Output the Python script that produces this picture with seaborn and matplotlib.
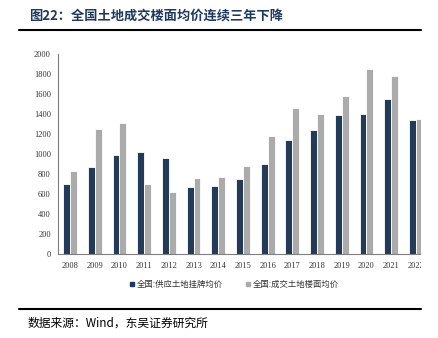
import matplotlib
matplotlib.use("Agg")
import matplotlib.pyplot as plt
import seaborn as sns
import pandas as pd
from matplotlib.lines import Line2D
from matplotlib.patches import Rectangle

years = ["2008", "2009", "2010", "2011", "2012", "2013", "2014", "2015",
         "2016", "2017", "2018", "2019", "2020", "2021", "2022"]
supply_price = [697, 873, 987, 1017, 957, 670, 683, 750, 903, 1140, 1237, 1387, 1400, 1547, 1340]
deal_price = [827, 1250, 1310, 697, 623, 757, 770, 877, 1180, 1463, 1397, 1583, 1850, 1777, 1350]
series_names = ["全国:供应土地挂牌均价", "全国:成交土地楼面均价"]
yticks = [0, 200, 400, 600, 800, 1000, 1200, 1400, 1600, 1800, 2000]

df = pd.DataFrame({
    "year": years * 2,
    "value": supply_price + deal_price,
    "series": [series_names[0]] * len(years) + [series_names[1]] * len(years),
})

sns.set_style("white")
plt.rcParams["font.family"] = ["Noto Sans CJK SC", "DejaVu Sans"]

navy = "#1b3a60"
gray = "#ababab"

fig = plt.figure(figsize=(4.39, 3.38), dpi=100)
ax = fig.add_axes([0.1315, 0.2485, 0.959 - 0.1315, 0.840 - 0.2485])

sns.barplot(data=df, x="year", y="value", hue="series", palette=[navy, gray],
            width=0.56, edgecolor="white", linewidth=0.6, ax=ax, legend=False)

ax.set_yticks(yticks)
ax.set_xticks([i + 0.5 for i in range(len(years) - 1)], minor=True)
ax.set_xlim(-0.5, 14.21)
ax.set_ylim(0, 2000)
ax.set_xlabel("")
ax.set_ylabel("")
for s in ["top", "right"]:
    ax.spines[s].set_visible(False)
for s in ["left", "bottom"]:
    ax.spines[s].set_color("#7f7f7f")
    ax.spines[s].set_linewidth(0.8)

ax.tick_params(axis="x", which="major", length=0, pad=6, labelsize=6,
               labelcolor="#333333")
ax.tick_params(axis="x", which="minor", length=3, width=0.6, color="#7f7f7f", direction="out")
ax.tick_params(axis="y", length=3, width=0.6, color="#7f7f7f", direction="out",
               labelsize=6, labelcolor="#333333", pad=2)
for lab in ax.get_xticklabels() + ax.get_yticklabels():
    lab.set_family(["Liberation Serif", "DejaVu Serif"])

# hide the part of the last label past the plot edge
fig.patches.append(Rectangle((421 / 439, 0.18), 1 - 421 / 439, 0.07,
                             transform=fig.transFigure, facecolor="white",
                             edgecolor="none", zorder=10))

handles = [Line2D([], [], marker="s", linestyle="none", markersize=3,
                  markerfacecolor=c, markeredgecolor=c) for c in (navy, gray)]
fig.legend(handles, series_names, loc="center", bbox_to_anchor=(234 / 439, 1 - 284 / 338),
           ncol=2, frameon=False, fontsize=6, handletextpad=0.2, columnspacing=2.6,
           handlelength=0.8, labelcolor="#333333")

fig.text(29 / 439, 1 - 16 / 338, "图22：全国土地成交楼面均价连续三年下降",
         fontsize=9.5, fontweight="bold", color="#1f3a5f", va="center", ha="left")
fig.add_artist(Line2D([19 / 439, 421 / 439], [1 - 30 / 338, 1 - 30 / 338],
                      transform=fig.transFigure, color="black", linewidth=1.5))
fig.add_artist(Line2D([19 / 439, 421 / 439], [1 - 309 / 338, 1 - 309 / 338],
                      transform=fig.transFigure, color="black", linewidth=1.5))
fig.text(28 / 439, 1 - 323 / 338, "数据来源：Wind，东吴证券研究所",
         fontsize=8.5, color="black", va="center", ha="left")

fig.savefig("out.png", dpi=100)
